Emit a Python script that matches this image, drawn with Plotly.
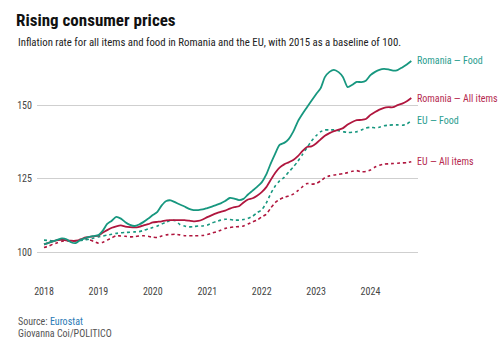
import pandas as pd
import plotly.graph_objects as go

dates = pd.date_range("2018-01-01", "2024-10-01", freq="MS")

ro_food = [102.8, 103.3, 103.8, 104.3, 104.8, 104.5, 103.5, 103.2, 104.2, 104.8, 105.3, 105.6,
           105.9, 107.5, 109.7, 110.8, 112.1, 111.5, 110.3, 109.4, 109.0, 109.5, 110.4, 111.5,
           112.7, 113.8, 116.0, 117.5, 117.7, 117.0, 116.3, 115.6, 114.8, 114.4, 114.4, 114.6,
           115.1, 115.6, 116.1, 116.7, 117.5, 118.5, 118.3, 117.8, 118.2, 119.7, 121.0, 122.3,
           123.8, 126.5, 130.0, 133.5, 136.5, 137.2, 138.5, 141.0, 144.5, 147.0, 149.3, 151.5,
           153.7, 155.8, 159.5, 161.3, 162.0, 161.2, 159.5, 156.1, 156.9, 157.9, 157.8, 158.3,
           160.2, 161.3, 162.0, 162.3, 162.1, 161.7, 161.9, 162.8, 163.8, 165.0]

ro_all = [102.8, 103.3, 103.8, 104.2, 104.3, 104.1, 104.0, 104.0, 104.3, 105.1, 105.3, 105.5,
          105.7, 106.8, 107.6, 108.4, 108.9, 109.2, 108.8, 108.6, 108.5, 108.7, 109.2, 109.6,
          110.2, 110.4, 110.6, 110.9, 111.0, 111.0, 111.0, 111.0, 110.8, 110.6, 110.7, 111.2,
          112.0, 112.7, 113.3, 113.8, 114.2, 114.9, 115.4, 115.7, 117.0, 118.0, 118.4, 119.3,
          120.5, 122.2, 124.5, 127.0, 128.8, 129.9, 130.6, 131.4, 132.7, 134.4, 135.8, 136.0,
          137.0, 138.4, 139.6, 140.5, 141.2, 141.7, 142.2, 143.4, 144.3, 144.9, 145.0, 145.3,
          146.7, 147.7, 148.5, 149.1, 149.3, 149.3, 150.0, 150.5, 151.3, 152.4]

eu_food = [104.2, 104.1, 104.0, 104.2, 104.3, 104.1, 103.9, 104.0, 104.1, 104.3, 104.5, 104.9,
           105.3, 105.6, 105.9, 106.2, 106.5, 106.7, 106.8, 106.9, 107.0, 107.1, 107.5, 108.0,
           108.5, 109.0, 109.7, 110.3, 111.0, 110.8, 109.5, 109.0, 108.7, 108.8, 109.0, 109.0,
           109.3, 110.0, 110.5, 111.0, 111.3, 111.2, 111.0, 111.0, 111.2, 111.6, 112.3, 113.5,
           114.5, 116.8, 119.8, 122.5, 124.3, 125.5, 127.3, 129.0, 131.0, 133.2, 135.6, 137.8,
           139.6, 141.0, 141.6, 141.6, 141.6, 141.3, 141.0, 140.7, 140.8, 141.0, 141.6, 142.2,
           142.5, 142.3, 142.5, 143.0, 143.2, 143.3, 143.3, 143.2, 143.6, 144.7]

eu_all = [101.7, 102.2, 102.8, 103.3, 103.8, 104.0, 103.8, 104.0, 104.5, 104.8, 104.3, 103.8,
          103.2, 103.5, 104.2, 105.0, 105.7, 105.6, 105.5, 105.3, 105.4, 105.6, 105.7, 105.5,
          105.2, 105.1, 105.6, 106.0, 106.1, 106.2, 106.0, 105.7, 105.7, 105.7, 105.7, 105.8,
          106.1, 106.6, 107.0, 107.6, 108.2, 108.5, 108.7, 108.8, 109.0, 109.7, 110.4, 111.0,
          112.1, 113.0, 115.0, 116.9, 118.0, 118.7, 119.2, 119.8, 121.0, 122.3, 123.4, 123.2,
          123.4, 124.3, 125.4, 126.0, 126.3, 126.5, 126.8, 127.1, 127.6, 127.8, 127.4, 127.5,
          128.0, 129.0, 129.6, 130.0, 130.1, 130.2, 130.3, 130.4, 130.5, 130.8]

series_names = ["EU — All items", "EU — Food", "Romania — All items", "Romania — Food"]
series_values = [eu_all, eu_food, ro_all, ro_food]
line_colors = ["#b0163e", "#17977f", "#b0163e", "#17977f"]
label_colors = ["#b52a50", "#2a9d8f", "#b52a50", "#2a9d8f"]
dashes = ["dot", "dot", "solid", "solid"]
widths = [1.6, 1.6, 1.8, 1.8]

y_ticks = [100, 125, 150]
x_ticks = ["2018", "2019", "2020", "2021", "2022", "2023", "2024"]

FONT = "Liberation Sans Narrow, Roboto Condensed, DejaVu Sans Condensed, Roboto, sans-serif"

fig = go.Figure()
for name, vals, col, dash, w in zip(series_names, series_values, line_colors, dashes, widths):
    fig.add_trace(go.Scatter(x=dates, y=vals, mode="lines", name=name,
                             line=dict(color=col, width=w, dash=dash, shape="spline", smoothing=0.6),
                             hoverinfo="skip"))

for name, vals, col in zip(series_names, series_values, label_colors):
    fig.add_annotation(x=1.0, xref="paper", y=vals[-1], yref="y", text=name,
                       xanchor="left", yanchor="middle", xshift=-3, showarrow=False,
                       font=dict(color=col, size=10, family=FONT))

fig.update_layout(
    width=504, height=348,
    margin=dict(l=37, r=86, t=58, b=66),
    paper_bgcolor="white", plot_bgcolor="white",
    showlegend=False,
    font=dict(family=FONT, color="#333"),
    title=dict(text="<b>Rising consumer prices</b>", x=16 / 504, xanchor="left",
               y=1 - 20.5 / 348, yanchor="middle",
               font=dict(size=17, color="#111", family=FONT)),
    xaxis=dict(range=["2017-11-15", "2024-11-15"], tickvals=[f"{y}-01-01" for y in x_ticks],
               ticktext=x_ticks, showgrid=False, zeroline=False, showline=False,
               ticks="", tickfont=dict(size=10, color="#444"), ticklabelstandoff=2),
    yaxis=dict(range=[90, 166], tickvals=y_ticks, showgrid=True, gridcolor="#cfcfcf",
               gridwidth=1, zeroline=False, showline=False, ticks="",
               tickfont=dict(size=10, color="#444"), ticklabelstandoff=4),
)

fig.add_annotation(xref="paper", yref="paper", x=-21 / 381, y=1 + 16 / 224, xanchor="left",
                   yanchor="middle", showarrow=False,
                   text="Inflation rate for all items and food in Romania and the EU, with 2015 as a baseline of 100.",
                   font=dict(size=10.8, color="#222", family=FONT))
fig.add_annotation(xref="paper", yref="paper", x=-21 / 381, y=-39 / 224, xanchor="left",
                   yanchor="middle", showarrow=False,
                   text="Source: <span style='color:#2a7ab5'>Eurostat</span>",
                   font=dict(size=10, color="#555", family=FONT))
fig.add_annotation(xref="paper", yref="paper", x=-21 / 381, y=-51 / 224, xanchor="left",
                   yanchor="middle", showarrow=False,
                   text="Giovanna Coi/POLITICO",
                   font=dict(size=10, color="#555", family=FONT))

fig.write_html("out.html")
